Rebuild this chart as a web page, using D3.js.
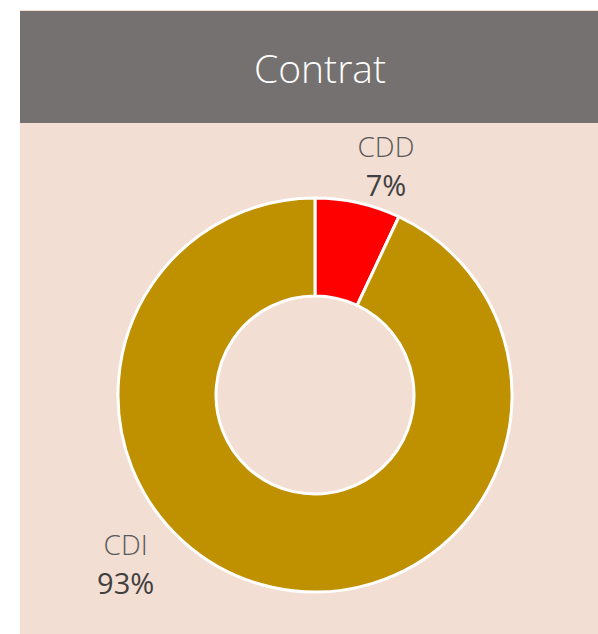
<!DOCTYPE html>
<html>
<head>
    <title>Contrat</title>
    <script src="https://d3js.org/d3.v7.min.js"></script>
    <style>
        body { margin: 0; background: #fff; }
        text { font-family: "Open Sans", "Noto Sans", sans-serif; }
    </style>
</head>
<body>
    <div id="chart"></div>
    <script>
// chart data
const title = "Contrat";
const categories = ["CDD", "CDI"];
const values = [7, 93];
const colors = ["#FF0000", "#BF9000"];

const W = 598, H = 634;
const svg = d3.select("#chart").append("svg").attr("width", W).attr("height", H);

// panel background + header band
svg.append("rect").attr("x", 20).attr("y", 10).attr("width", W - 20).attr("height", H - 10).attr("fill", "#F3DED3");
svg.append("rect").attr("x", 20).attr("y", 11).attr("width", W - 20).attr("height", 112).attr("fill", "#767171");
svg.append("text")
    .attr("x", 320).attr("y", 83)
    .attr("text-anchor", "middle")
    .attr("fill", "#fff")
    .attr("font-size", 39)
    .attr("font-weight", 300)
    .text(title);

const cx = 315, cy = 395;
const outerR = 197, innerR = 99;

const data = categories.map((c, i) => ({ cat: c, value: values[i], color: colors[i] }));
const pie = d3.pie().value(d => d.value).sort(null);
const arc = d3.arc().innerRadius(innerR).outerRadius(outerR);

const g = svg.append("g").attr("transform", `translate(${cx},${cy})`);
const arcs = pie(data);

g.selectAll("path")
    .data(arcs)
    .enter().append("path")
    .attr("d", arc)
    .attr("fill", d => d.data.color)
    .attr("stroke", "#fff")
    .attr("stroke-width", 3)
    .attr("stroke-linejoin", "round");

// data labels: placed outside the ring (angle in rad from 12 o'clock, radius)
const total = d3.sum(values);
const labelSpot = { CDD: [0.304, 237], CDI: [3.974, 256] };
const lbl = g.selectAll(".lbl")
    .data(arcs)
    .enter().append("g")
    .attr("class", "lbl")
    .attr("transform", d => {
        const [a, r] = labelSpot[d.data.cat];
        return `translate(${r * Math.sin(a)},${-r * Math.cos(a)})`;
    });

lbl.append("text")
    .attr("text-anchor", "middle")
    .attr("y", -12)
    .attr("font-size", 28)
    .attr("font-weight", 300)
    .attr("fill", "#595959")
    .text(d => d.data.cat);

lbl.append("text")
    .attr("text-anchor", "middle")
    .attr("y", 27)
    .attr("font-size", 29)
    .attr("fill", "#404040")
    .text(d => Math.round(d.data.value / total * 100) + "%");
    </script>
</body>
</html>
